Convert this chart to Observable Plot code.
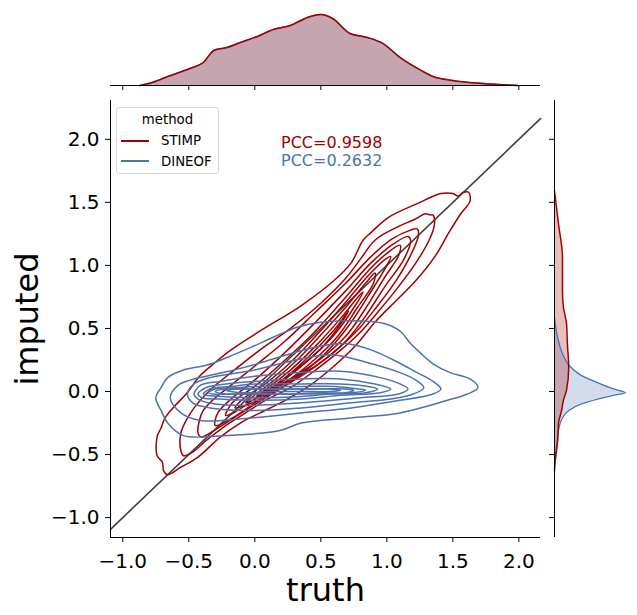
<!DOCTYPE html>
<html>
<head>
<meta charset="utf-8">
<script src="https://cdn.jsdelivr.net/npm/d3@7"></script>
<script src="https://cdn.jsdelivr.net/npm/@observablehq/plot@0.6"></script>
<style>
  body { margin: 0; background: white; overflow: hidden; font-family: "DejaVu Sans", sans-serif; }
  #page { position: relative; width: 637px; height: 615px; }
  #page svg text { font-family: "DejaVu Sans", sans-serif; }
  .abs { position: absolute; white-space: nowrap; }
</style>
</head>
<body>
<div id="page"></div>
<script>
// ---------- data ----------
const methods = ["STIMP", "DINEOF"];
const methodColors = ["#a00000", "#4c72b0"];
const pccLabels = ["PCC=0.9598", "PCC=0.2632"];

const xTicks = [-1.0, -0.5, 0.0, 0.5, 1.0, 1.5, 2.0];
const yTicks = [-1.0, -0.5, 0.0, 0.5, 1.0, 1.5, 2.0];
const xDomain = [-1.093, 2.164];
const yDomain = [-1.158, 2.308];

// y = x reference line endpoints (truth, imputed)
const diagonal = [[-1.093, -1.093], [2.164, 2.164]];

// STIMP KDE contour lines (truth, imputed), outermost first
const stimpContours = [
  [[-0.66,-0.66],[-0.69,-0.63],[-0.70,-0.56],[-0.74,-0.51],[-0.74,-0.36],[-0.71,-0.29],[-0.68,-0.21],[-0.62,-0.13],[-0.52,-0.02],[-0.41,0.13],[-0.30,0.23],[-0.18,0.33],[0.04,0.48],[0.35,0.68],[0.60,0.88],[0.73,1.02],[0.82,1.20],[0.88,1.26],[1.01,1.38],[1.23,1.49],[1.41,1.57],[1.50,1.57],[1.54,1.55],[1.58,1.58],[1.62,1.58],[1.63,1.51],[1.56,1.41],[1.47,1.26],[1.37,1.08],[1.22,0.88],[1.07,0.72],[0.91,0.55],[0.76,0.36],[0.61,0.21],[0.42,0.05],[0.23,-0.07],[0.04,-0.17],[-0.11,-0.25],[-0.26,-0.36],[-0.43,-0.52],[-0.56,-0.60]],
  [[-0.54,-0.51],[-0.56,-0.47],[-0.56,-0.33],[-0.52,-0.23],[-0.46,-0.13],[-0.34,0.01],[-0.18,0.15],[0.04,0.33],[0.27,0.50],[0.50,0.70],[0.69,0.90],[0.80,1.05],[0.91,1.20],[1.07,1.30],[1.22,1.37],[1.29,1.41],[1.33,1.40],[1.35,1.40],[1.36,1.32],[1.32,1.20],[1.22,1.02],[1.08,0.82],[0.94,0.64],[0.79,0.46],[0.63,0.31],[0.46,0.17],[0.27,0.03],[0.08,-0.07],[-0.07,-0.17],[-0.22,-0.27],[-0.37,-0.39],[-0.47,-0.48]],
  [[-0.41,-0.36],[-0.43,-0.33],[-0.42,-0.23],[-0.39,-0.15],[-0.32,-0.07],[-0.18,0.05],[0.01,0.21],[0.23,0.40],[0.46,0.63],[0.69,0.86],[0.88,1.07],[1.04,1.21],[1.18,1.28],[1.23,1.29],[1.24,1.24],[1.18,1.08],[1.07,0.88],[0.93,0.68],[0.79,0.50],[0.63,0.34],[0.46,0.20],[0.27,0.07],[0.08,-0.05],[-0.07,-0.15],[-0.22,-0.25],[-0.34,-0.33]],
  [[-0.30,-0.27],[-0.28,-0.17],[-0.18,-0.06],[0.01,0.10],[0.23,0.31],[0.46,0.55],[0.69,0.80],[0.88,1.02],[1.05,1.17],[1.16,1.23],[1.18,1.20],[1.13,1.05],[0.99,0.84],[0.84,0.60],[0.69,0.40],[0.50,0.23],[0.27,0.09],[0.04,-0.06],[-0.17,-0.21]],
  [[-0.22,-0.19],[-0.17,-0.09],[0.01,0.05],[0.23,0.25],[0.46,0.48],[0.69,0.75],[0.88,0.98],[1.03,1.12],[1.10,1.16],[1.09,1.08],[0.98,0.90],[0.84,0.66],[0.69,0.44],[0.50,0.26],[0.27,0.10],[0.04,-0.03],[-0.13,-0.15]],
  [[-0.15,-0.13],[-0.09,-0.06],[0.08,0.06],[0.27,0.23],[0.48,0.46],[0.69,0.71],[0.86,0.92],[0.99,1.05],[1.03,1.07],[0.99,0.98],[0.86,0.76],[0.71,0.52],[0.54,0.31],[0.33,0.12],[0.12,-0.02],[-0.07,-0.11]],
  [[-0.07,-0.09],[0.01,-0.02],[0.16,0.10],[0.33,0.26],[0.51,0.46],[0.69,0.67],[0.84,0.86],[0.91,0.94],[0.90,0.86],[0.78,0.67],[0.63,0.44],[0.46,0.26],[0.27,0.10],[0.08,-0.02]],
  [[0.01,-0.04],[0.10,0.03],[0.27,0.17],[0.46,0.36],[0.65,0.58],[0.79,0.76],[0.82,0.79],[0.76,0.68],[0.61,0.46],[0.42,0.26],[0.23,0.10],[0.08,0.00]],
  [[0.10,0.01],[0.23,0.11],[0.42,0.29],[0.61,0.50],[0.71,0.64],[0.66,0.55],[0.50,0.34],[0.31,0.17],[0.16,0.04]]
];

// DINEOF KDE contour lines (truth, imputed), outermost first
const dineofContours = [
  [[-0.75,-0.05],[-0.71,0.03],[-0.66,0.11],[-0.54,0.17],[-0.36,0.21],[-0.21,0.27],[-0.03,0.35],[0.14,0.43],[0.32,0.51],[0.50,0.55],[0.80,0.56],[0.98,0.54],[1.10,0.48],[1.18,0.38],[1.26,0.30],[1.35,0.22],[1.48,0.15],[1.63,0.10],[1.69,0.03],[1.61,-0.02],[1.46,-0.07],[1.10,-0.17],[0.73,-0.21],[0.35,-0.25],[0.19,-0.31],[-0.24,-0.35],[-0.54,-0.35],[-0.66,-0.25],[-0.71,-0.15]],
  [[-0.64,-0.05],[-0.58,0.05],[-0.49,0.09],[-0.24,0.15],[0.02,0.22],[0.27,0.30],[0.50,0.36],[0.69,0.38],[0.88,0.33],[1.05,0.25],[1.23,0.15],[1.35,0.08],[1.41,0.02],[1.35,-0.02],[1.10,-0.07],[0.73,-0.13],[0.35,-0.17],[-0.03,-0.21],[-0.41,-0.23],[-0.56,-0.17]],
  [[-0.51,-0.02],[-0.46,0.06],[-0.34,0.11],[0.00,0.17],[0.35,0.26],[0.60,0.29],[0.85,0.23],[1.10,0.15],[1.22,0.09],[1.28,0.03],[1.20,-0.02],[1.03,-0.06],[0.73,-0.09],[0.35,-0.13],[0.00,-0.15],[-0.34,-0.13],[-0.47,-0.09]],
  [[-0.46,-0.02],[-0.41,0.05],[-0.26,0.08],[0.00,0.12],[0.35,0.15],[0.65,0.16],[0.95,0.11],[1.10,0.06],[1.16,0.02],[1.09,-0.02],[0.80,-0.05],[0.35,-0.09],[0.00,-0.11],[-0.30,-0.10],[-0.43,-0.06]],
  [[-0.43,-0.02],[-0.37,0.03],[-0.22,0.06],[0.00,0.08],[0.35,0.10],[0.65,0.10],[0.91,0.06],[1.03,0.02],[0.95,-0.01],[0.65,-0.03],[0.35,-0.06],[0.00,-0.07],[-0.26,-0.06],[-0.40,-0.05]],
  [[-0.39,-0.02],[-0.34,0.02],[-0.18,0.04],[0.00,0.06],[0.35,0.06],[0.65,0.06],[0.86,0.04],[0.93,0.02],[0.84,-0.01],[0.57,-0.02],[0.35,-0.04],[0.00,-0.05],[-0.24,-0.04],[-0.37,-0.03]],
  [[-0.35,-0.01],[-0.30,0.02],[-0.15,0.03],[0.04,0.04],[0.35,0.04],[0.61,0.04],[0.79,0.02],[0.84,0.01],[0.73,-0.01],[0.35,-0.02],[0.04,-0.02],[-0.18,-0.02],[-0.32,-0.02]],
  [[-0.30,0.00],[-0.22,0.02],[-0.03,0.02],[0.27,0.02],[0.50,0.02],[0.69,0.02],[0.75,0.01],[0.69,-0.01],[0.50,-0.01],[0.27,-0.02],[-0.03,-0.02],[-0.22,-0.02]],
  [[-0.22,0.01],[-0.11,0.02],[0.12,0.02],[0.35,0.02],[0.57,0.02],[0.65,0.01],[0.57,0.00],[0.35,0.00],[0.12,0.00],[-0.11,-0.01]]
];

// marginal density of truth (identical for both methods)
const truthGrid    = [-0.87,-0.77,-0.66,-0.49,-0.39,-0.31,-0.21,-0.11,0.02,0.14,0.27,0.40,0.50,0.59,0.72,0.85,0.97,1.10,1.26,1.35,1.50,1.73,1.99];
const truthDensity = [0,0.028,0.076,0.144,0.194,0.296,0.321,0.363,0.414,0.473,0.507,0.575,0.600,0.566,0.439,0.406,0.355,0.237,0.127,0.076,0.042,0.017,0];

// marginal density of imputed values
const stimpImpGrid    = [1.59,1.33,1.06,0.80,0.67,0.54,0.38,0.19,0.01,-0.07,-0.15,-0.25,-0.39,-0.52,-0.63];
const stimpImpDensity = [0,0.09,0.18,0.18,0.20,0.27,0.29,0.32,0.27,0.20,0.16,0.09,0.07,0.02,0];
const dineofImpGrid    = [0.59,0.43,0.30,0.21,0.13,0.07,0.02,-0.01,-0.03,-0.06,-0.10,-0.15,-0.21,-0.31,-0.47,-0.60];
const dineofImpDensity = [0,0.07,0.18,0.32,0.59,0.97,1.33,1.60,1.33,0.97,0.59,0.32,0.18,0.09,0.05,0];

// ---------- build ----------
(function () {
  const red = methodColors[0], blue = methodColors[1];
  const fmt = d3.format(".1f");
  const font = "DejaVu Sans";
  const page = document.getElementById("page");

  const toRows = (contours) => contours.flatMap((c, i) => c.map(([x, y]) => ({x, y, level: i})));
  const stimpRows = toRows(stimpContours);
  const dineofRows = toRows(dineofContours);
  const truthRows = truthGrid.map((x, i) => ({x, d: truthDensity[i]}));
  const stimpImpRows = stimpImpGrid.map((y, i) => ({y, d: stimpImpDensity[i]}));
  const dineofImpRows = dineofImpGrid.map((y, i) => ({y, d: dineofImpDensity[i]}));

  function place(el, left, topPx) {
    el.style.position = "absolute";
    el.style.left = left + "px";
    el.style.top = topPx + "px";
    page.appendChild(el);
  }

  const mainPlot = Plot.plot({
    width: 545, height: 523,
    marginLeft: 110, marginRight: 5, marginTop: 8, marginBottom: 78,
    style: {fontFamily: font, fontSize: "20px", background: "transparent", overflow: "visible"},
    x: {domain: xDomain},
    y: {domain: yDomain},
    marks: [
      Plot.line(diagonal, {x: d => d[0], y: d => d[1], stroke: "#404040", strokeWidth: 1.6}),
      Plot.line(stimpRows, {x: "x", y: "y", z: "level", stroke: red, strokeWidth: 1.5, curve: "catmull-rom-closed", strokeLinejoin: "round"}),
      Plot.line(dineofRows, {x: "x", y: "y", z: "level", stroke: blue, strokeWidth: 1.5, curve: "catmull-rom-closed", strokeLinejoin: "round"}),
      Plot.ruleX([xDomain[0]], {stroke: "black", strokeWidth: 1}),
      Plot.ruleY([yDomain[0]], {stroke: "black", strokeWidth: 1}),
      Plot.axisX({ticks: xTicks, tickFormat: fmt, tickSize: 5, tickPadding: 11, fontSize: 20, label: null}),
      Plot.axisY({ticks: yTicks, tickFormat: fmt, tickSize: 5, tickPadding: 6, fontSize: 20, label: null}),
      Plot.text(["truth"], {frameAnchor: "bottom", textAnchor: "middle", lineAnchor: "bottom", dy: 63, fontSize: 32, text: d => d}),
      Plot.text(["imputed"], {frameAnchor: "left", textAnchor: "middle", dx: -83, rotate: -90, fontSize: 32, text: d => d})
    ]
  });
  // make sure the numeric tick labels render at 20px
  d3.select(mainPlot).selectAll("text")
    .filter(function () { return /^[\u2212\-]?\d/.test(this.textContent); })
    .style("font-size", "20px")
    .attr("font-size", 20);
  place(mainPlot, 0, 92);

  const topPlot = Plot.plot({
    width: 445, height: 92,
    marginLeft: 10, marginRight: 5, marginTop: 10.4, marginBottom: 7,
    style: {fontFamily: font, background: "transparent", overflow: "visible"},
    x: {domain: xDomain},
    y: {domain: [0, 0.63], axis: null},
    marks: [
      Plot.areaY(truthRows, {x: "x", y: "d", fill: blue, fillOpacity: 0.25, curve: "monotone-x"}),
      Plot.areaY(truthRows, {x: "x", y: "d", fill: red, fillOpacity: 0.25, curve: "monotone-x"}),
      Plot.lineY(truthRows, {x: "x", y: "d", stroke: blue, strokeWidth: 1.3, curve: "monotone-x"}),
      Plot.lineY(truthRows, {x: "x", y: "d", stroke: red, strokeWidth: 1.5, curve: "monotone-x"}),
      Plot.ruleY([0], {stroke: "black", strokeWidth: 1}),
      Plot.axisX({ticks: xTicks, tickSize: 5, tickFormat: () => "", label: null})
    ]
  });
  place(topPlot, 100, 0);

  const rightPlot = Plot.plot({
    width: 92, height: 453,
    marginLeft: 9, marginRight: 8.4, marginTop: 8, marginBottom: 8,
    style: {fontFamily: font, background: "transparent", overflow: "visible"},
    x: {domain: [0, 1.68], axis: null},
    y: {domain: yDomain},
    marks: [
      Plot.areaX(dineofImpRows, {y: "y", x: "d", fill: blue, fillOpacity: 0.25, curve: "monotone-y"}),
      Plot.areaX(stimpImpRows, {y: "y", x: "d", fill: red, fillOpacity: 0.25, curve: "monotone-y"}),
      Plot.lineX(dineofImpRows, {y: "y", x: "d", stroke: blue, strokeWidth: 1.3, curve: "monotone-y"}),
      Plot.lineX(stimpImpRows, {y: "y", x: "d", stroke: red, strokeWidth: 1.5, curve: "monotone-y"}),
      Plot.ruleX([0], {stroke: "black", strokeWidth: 1}),
      Plot.axisY({ticks: yTicks, tickSize: 5, tickFormat: () => "", label: null})
    ]
  });
  place(rightPlot, 545, 92);

  // legend
  const box = document.createElement("div");
  box.className = "abs";
  Object.assign(box.style, {left: "116px", top: "107px", width: "103px", height: "67px", boxSizing: "border-box",
    border: "1px solid #d6d6d6", borderRadius: "3px", background: "rgba(255,255,255,0.8)"});
  page.appendChild(box);

  function addText(txt, left, topPx, size, color, extra = {}) {
    const el = document.createElement("div");
    el.className = "abs";
    el.textContent = txt;
    Object.assign(el.style, {left: left + "px", top: topPx + "px", fontSize: size + "px", lineHeight: size + "px", color}, extra);
    page.appendChild(el);
    return el;
  }
  addText("method", 116, 112.6, 13.3, "#000", {width: "103px", textAlign: "center"});
  methods.forEach((m, i) => {
    const yc = 140.5 + i * 20.5;
    const sw = document.createElement("div");
    sw.className = "abs";
    Object.assign(sw.style, {left: "121px", top: (yc - 1) + "px", width: "28px", height: "2px", background: methodColors[i]});
    page.appendChild(sw);
    addText(m, 161, yc - 6.4, 13.3, "#000");
  });

  pccLabels.forEach((t, i) => addText(t, 281, 134.8 + i * 18, 16, methodColors[i]));
})();
</script>
</body>
</html>
